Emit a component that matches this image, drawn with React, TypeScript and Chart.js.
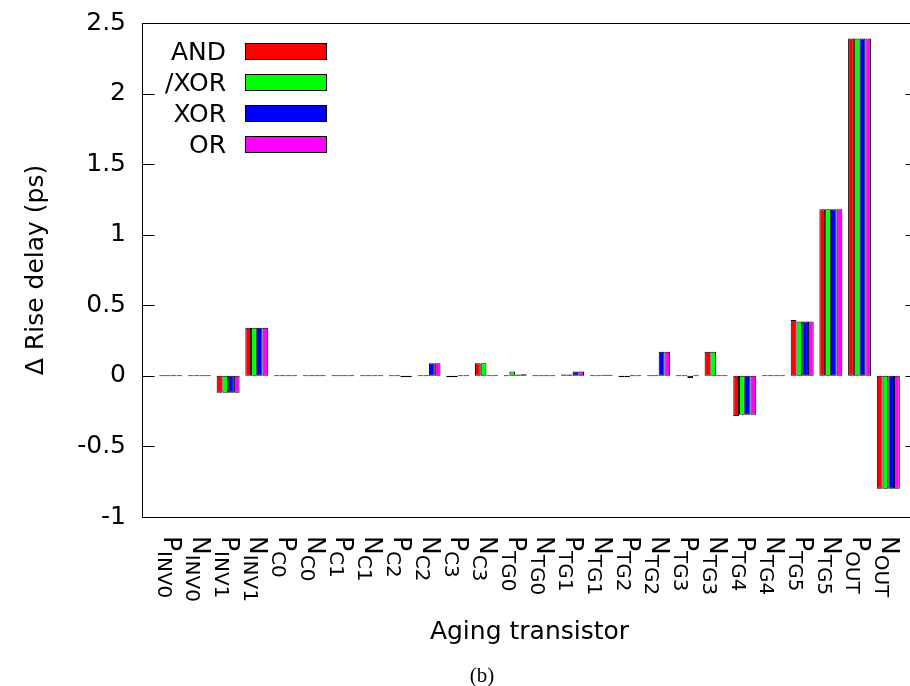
import React, { useEffect, useRef } from "react";
import { Chart, registerables } from "chart.js";

Chart.register(...registerables);

// ---- data ----
const categoryMain = ["P", "N", "P", "N", "P", "N", "P", "N", "P", "N", "P", "N", "P", "N", "P", "N", "P", "N", "P", "N", "P", "N", "P", "N", "P", "N"];
const categorySub = ["INV0", "INV0", "INV1", "INV1", "C0", "C0", "C1", "C1", "C2", "C2", "C3", "C3", "TG0", "TG0", "TG1", "TG1", "TG2", "TG2", "TG3", "TG3", "TG4", "TG4", "TG5", "TG5", "OUT", "OUT"];

const seriesLabels = ["AND", "/XOR", "XOR", "OR"];
const seriesColors = ["#ff0000", "#00ff00", "#0000ff", "#ff00ff"];

const andValues = [0, 0, -0.12, 0.34, 0, 0, 0, 0, 0, 0, -0.01, 0.09, 0, 0, 0.01, 0, -0.01, 0, 0, 0.17, -0.284, 0, 0.395, 1.18, 2.39, -0.8];
const nxorValues = [0, 0, -0.12, 0.34, 0, 0, 0, 0, 0, 0, -0.01, 0.09, 0.03, 0, 0.01, 0, -0.01, 0, 0, 0.17, -0.276, 0, 0.386, 1.18, 2.39, -0.8];
const xorValues = [0, 0, -0.12, 0.34, 0, 0, 0, 0, -0.01, 0.09, 0, 0, 0.01, 0, 0.03, 0.005, 0, 0.17, -0.015, 0, -0.276, 0, 0.386, 1.18, 2.39, -0.8];
const orValues = [0, 0, -0.12, 0.34, 0, 0, 0, 0, -0.01, 0.09, 0, 0, 0.012, 0, 0.03, 0.005, 0, 0.17, 0, 0, -0.276, 0, 0.386, 1.18, 2.39, -0.8];

const yTickValues = [-1, -0.5, 0, 0.5, 1, 1.5, 2, 2.5];
const yTickLabels = ["-1", "-0.5", "0", "0.5", "1", "1.5", "2", "2.5"];

const FONT = '"DejaVu Sans"';

const decorPlugin = {
  id: "decor",
  afterDraw(chart: any) {
    const { ctx, chartArea: a, scales } = chart;
    const ys = scales.y;
    const xs = scales.x;
    ctx.save();
    ctx.strokeStyle = "#000";
    ctx.lineWidth = 1;
    const L = Math.round(a.left) + 0.5;
    const R = Math.round(a.right) + 0.5;
    const T = Math.round(a.top) + 0.5;
    const B = Math.round(a.bottom) + 0.5;
    ctx.strokeRect(L, T, R - L, B - T);
    // inward y ticks, mirrored
    yTickValues.forEach((v) => {
      const py = Math.round(ys.getPixelForValue(v)) + 0.5;
      ctx.beginPath();
      ctx.moveTo(L, py);
      ctx.lineTo(L + 12, py);
      ctx.moveTo(R - 12, py);
      ctx.lineTo(R, py);
      ctx.stroke();
    });
    // x tick labels with subscripts, rotated clockwise
    ctx.fillStyle = "#000";
    categoryMain.forEach((m, i) => {
      const px = xs.getPixelForValue(i);
      ctx.save();
      ctx.translate(px, 536);
      ctx.rotate(Math.PI / 2);
      ctx.textAlign = "left";
      ctx.textBaseline = "middle";
      ctx.font = `25px ${FONT}`;
      ctx.fillText(m, 0, 0);
      const w = ctx.measureText(m).width;
      ctx.font = `20px ${FONT}`;
      ctx.fillText(categorySub[i], w, 8);
      ctx.restore();
    });
    // legend (text, then swatch on the right)
    chart.data.datasets.forEach((ds: any, k: number) => {
      const cy = 52 + k * 31;
      ctx.font = `25px ${FONT}`;
      ctx.textAlign = "right";
      ctx.textBaseline = "middle";
      ctx.fillStyle = "#000";
      ctx.fillText(ds.label, 226, cy + 1);
      ctx.fillStyle = ds.backgroundColor;
      ctx.fillRect(245, cy - 8, 81, 16);
      ctx.strokeStyle = "#000";
      ctx.strokeRect(245.5, cy - 8.5, 81, 16);
    });
    // panel caption
    ctx.font = `21px "Liberation Serif"`;
    ctx.textAlign = "center";
    ctx.textBaseline = "middle";
    ctx.fillStyle = "#000";
    ctx.fillText("(b)", 482, 676);
    ctx.restore();
  },
};

export default function App() {
  const ref = useRef<HTMLCanvasElement | null>(null);
  useEffect(() => {
    if (!ref.current) return;
    const allValues = [andValues, nxorValues, xorValues, orValues];
    const chart = new Chart(ref.current, {
      type: "bar",
      data: {
        datasets: allValues.map((vals, k) => ({
          label: seriesLabels[k],
          data: vals.map((v, i) => ({ x: i, y: v })),
          backgroundColor: seriesColors[k],
          borderColor: "#000",
          borderWidth: 1,
          borderSkipped: false,
          barPercentage: 1,
          categoryPercentage: 0.8,
          minBarLength: 1,
        })),
      },
      options: {
        responsive: false,
        animation: false,
        layout: { padding: { top: 23, right: 1, left: 0, bottom: 0 } },
        plugins: {
          legend: { display: false },
          tooltip: { enabled: false },
          title: { display: false },
        },
        scales: {
          x: {
            type: "linear",
            min: -1,
            max: 26,
            offset: false,
            grid: { display: false },
            border: { display: false },
            ticks: { display: false },
            title: {
              display: true,
              text: "Aging transistor",
              color: "#000",
              font: { family: FONT, size: 25 },
              padding: { top: 0, bottom: 39 },
            },
            afterFit: (s: any) => {
              s.height = 686 - 517;
            },
          },
          y: {
            min: -1,
            max: 2.5,
            grid: { display: false },
            border: { display: false },
            afterBuildTicks: (s: any) => {
              s.ticks = yTickValues.map((v) => ({ value: v }));
            },
            ticks: {
              color: "#000",
              font: { family: FONT, size: 25 },
              padding: 8,
              callback: (v: any) => {
                const idx = yTickValues.indexOf(Number(v));
                return idx >= 0 ? yTickLabels[idx] : "";
              },
            },
            title: {
              display: true,
              text: "Δ Rise delay (ps)",
              color: "#000",
              font: { family: FONT, size: 25 },
              padding: { top: 21, bottom: 0 },
            },
            afterFit: (s: any) => {
              s.width = 142;
            },
          },
        },
      },
      plugins: [decorPlugin],
    });
    return () => chart.destroy();
  }, []);
  return (
    <div
      style={{
        position: "fixed",
        left: 0,
        top: 0,
        width: 910,
        height: 686,
        overflow: "hidden",
        background: "#fff",
      }}
    >
      <canvas ref={ref} width={918} height={686} style={{ display: "block" }} />
    </div>
  );
}
